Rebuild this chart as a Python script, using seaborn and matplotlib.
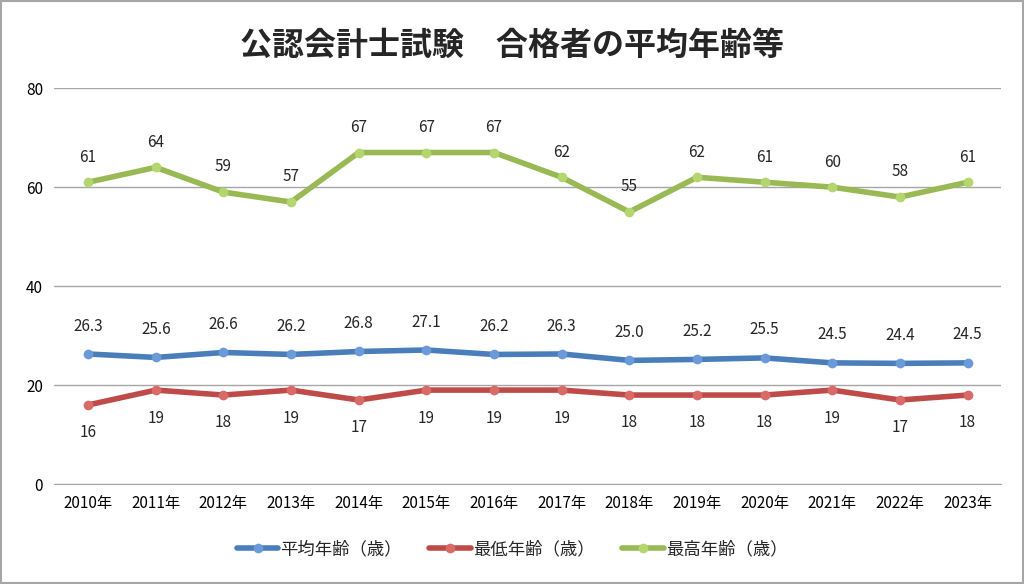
import matplotlib
matplotlib.use("Agg")
import matplotlib.pyplot as plt
import seaborn as sns
import pandas as pd
from matplotlib.patches import Rectangle
from matplotlib.lines import Line2D

years = ["2010年", "2011年", "2012年", "2013年", "2014年", "2015年", "2016年",
         "2017年", "2018年", "2019年", "2020年", "2021年", "2022年", "2023年"]
avg_age = [26.3, 25.6, 26.6, 26.2, 26.8, 27.1, 26.2, 26.3, 25.0, 25.2, 25.5, 24.5, 24.4, 24.5]
min_age = [16, 19, 18, 19, 17, 19, 19, 19, 18, 18, 18, 19, 17, 18]
max_age = [61, 64, 59, 57, 67, 67, 67, 62, 55, 62, 61, 60, 58, 61]
series_names = ["平均年齢（歳）", "最低年齢（歳）", "最高年齢（歳）"]

sns.set_style("white")
plt.rcParams['font.family'] = ['Noto Sans CJK JP', 'DejaVu Sans']

rows = []
for name, vals in zip(series_names, [avg_age, min_age, max_age]):
    for y, v in zip(years, vals):
        rows.append({"year": y, "value": v, "series": name})
df = pd.DataFrame(rows)
df["x"] = df["year"].map({y: i for i, y in enumerate(years)})

colors = dict(zip(series_names, ["#4A7EBB", "#BE4B48", "#98B954"]))
mfc = dict(zip(series_names, ["#6A9BD8", "#D86A67", "#B4D66E"]))

fig = plt.figure(figsize=(10.24, 5.84), dpi=100)
ax = fig.add_axes([0.053, 0.171, 0.925, 0.678])

sns.lineplot(data=df, x="x", y="value", hue="series", palette=colors,
             hue_order=series_names, linewidth=4, marker="o", markersize=7,
             markeredgewidth=0, ax=ax, legend=False)
for line, name in zip(ax.lines, series_names):
    line.set_markerfacecolor(mfc[name])
    line.set_solid_capstyle("round")

ax.set_xlim(-0.5, len(years) - 0.5)
ax.set_ylim(0, 80)
ax.set_yticks([0, 20, 40, 60, 80])
ax.set_xticks(range(len(years)))
ax.set_xticklabels(years)
ax.set_xlabel("")
ax.set_ylabel("")
ax.tick_params(axis="both", labelsize=11, colors="#000000", length=0, pad=8)
ax.yaxis.grid(True, color="#A6A6A6", linewidth=1)
ax.set_axisbelow(True)
for s in ["top", "right", "left"]:
    ax.spines[s].set_visible(False)
ax.spines["bottom"].set_color("#A6A6A6")

for i in range(len(years)):
    ax.annotate(f"{avg_age[i]:.1f}", (i, avg_age[i]), xytext=(0, 14), textcoords="offset points",
                ha="center", va="bottom", fontsize=11)
    ax.annotate(f"{min_age[i]}", (i, min_age[i]), xytext=(0, -14), textcoords="offset points",
                ha="center", va="top", fontsize=11)
    ax.annotate(f"{max_age[i]}", (i, max_age[i]), xytext=(0, 12), textcoords="offset points",
                ha="center", va="bottom", fontsize=11)

fig.text(0.5, 0.922, "公認会計士試験　合格者の平均年齢等", ha="center", va="center",
         fontsize=23, fontweight="bold")

handles = [Line2D([0], [0], color=colors[n], lw=4, marker="o", markersize=7,
                  markerfacecolor=mfc[n], markeredgewidth=0) for n in series_names]
fig.legend(handles, series_names, loc="center", bbox_to_anchor=(0.5, 0.06), ncol=3,
           frameon=False, fontsize=12.5, handlelength=2.4, columnspacing=1.6, handletextpad=0.1)

fig.patches.append(Rectangle((0.001, 0.001), 0.998, 0.998, transform=fig.transFigure,
                             fill=False, edgecolor="#A6A6A6", linewidth=1.5))

fig.savefig("out.png", dpi=100)
